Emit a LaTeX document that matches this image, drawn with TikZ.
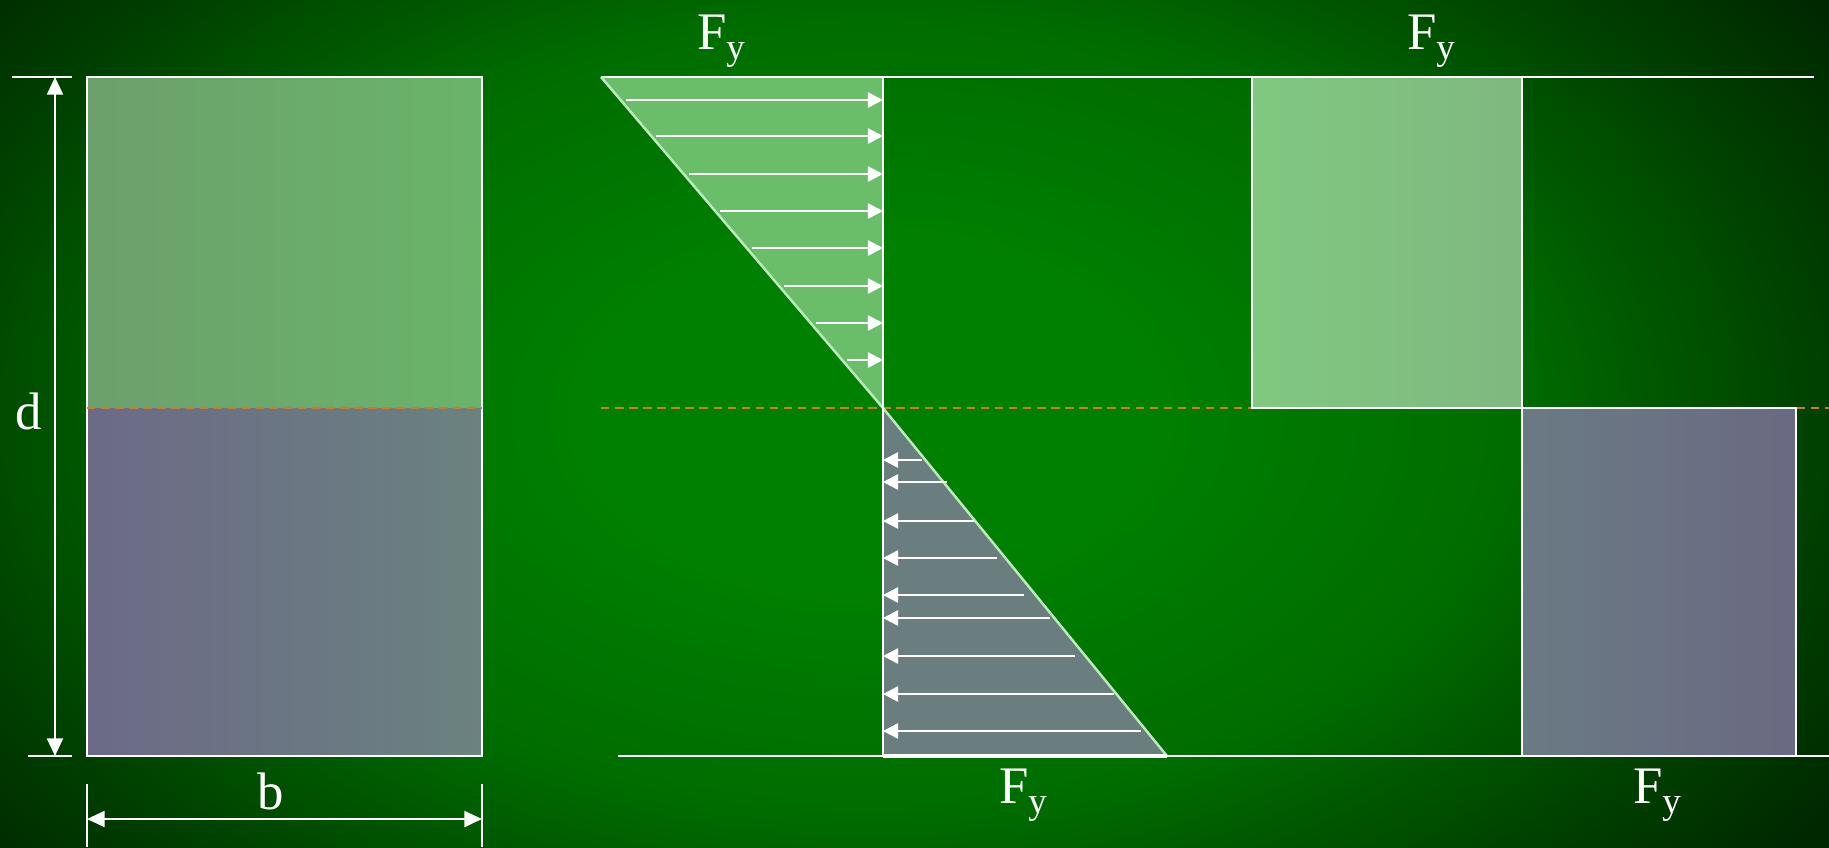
\documentclass[tikz,border=0pt]{standalone}
\usepackage{fontspec}
\setmainfont{Liberation Serif}
\usetikzlibrary{arrows.meta}

\definecolor{bgin}{RGB}{0,128,0}
\definecolor{bgmid}{RGB}{0,108,0}
\definecolor{bgdark}{RGB}{0,65,0}
\definecolor{bgout}{RGB}{0,40,0}
\definecolor{secupL}{RGB}{108,160,108}
\definecolor{secupR}{RGB}{106,180,106}
\definecolor{secdnL}{RGB}{108,106,135}
\definecolor{secdnR}{RGB}{106,130,128}
\definecolor{tensfill}{RGB}{106,190,106}
\definecolor{compfill}{RGB}{106,126,128}
\definecolor{yupL}{RGB}{128,200,128}
\definecolor{yupR}{RGB}{128,184,128}
\definecolor{ydnL}{RGB}{106,122,132}
\definecolor{ydnR}{RGB}{106,106,130}
\definecolor{axisorange}{RGB}{210,120,40}
\definecolor{diagline}{RGB}{190,235,190}

\pgfdeclareradialshading{bgglow}{\pgfpoint{0bp}{0bp}}{color(0bp)=(bgin); color(6bp)=(bgin); color(14bp)=(bgmid); color(20.5bp)=(bgdark); color(25bp)=(bgout); color(50bp)=(bgout)}

\newcommand{\fyield}{F\raisebox{-2.8pt}{\fontsize{10.5}{12}\selectfont y}}

\tikzset{
  edge/.style={white, line width=0.7pt},
  dimline/.style={white, line width=0.7pt, {Triangle[length=5pt,width=4.5pt]}-{Triangle[length=5pt,width=4.5pt]}},
  stressarrow/.style={white, line width=0.7pt, -{Triangle[length=4.3pt,width=4.3pt]}},
  neutral/.style={axisorange, line width=0.7pt, dash pattern=on 2.4pt off 1.6pt},
  fytext/.style={text=white, font=\fontsize{15}{18}\selectfont, inner sep=0pt},
}

\begin{document}
\begin{tikzpicture}[x=0.01cm,y=-0.01cm]
	\useasboundingbox (0,0) rectangle (1829,847);
	\fill[bgout] (-10,-10) rectangle (1839,857);
	\begin{scope}
		\clip (-10,-10) rectangle (1839,857);
		\shade[shading=bgglow] (870,415) ellipse [x radius=1150, y radius=720];
	\end{scope}

	% section b x d
	\shade[left color=secupL, right color=secupR] (87,77) rectangle (482,408);
	\shade[left color=secdnL, right color=secdnR] (87,408) rectangle (482,756);
	\draw[edge] (87,77) rectangle (482,756);
	\draw[neutral] (87,408) -- (482,408);

	\coordinate (dtop) at (55,77);
	\coordinate (dbot) at (55,756);
	\draw[edge] (12,77) -- (72,77);
	\draw[edge] (28,756) -- (72,756);
	\draw[dimline] (dtop) -- (dbot);
	\node[fytext] (dlab) at (29,411) {d};

	\coordinate (bleft) at (87,819);
	\coordinate (bright) at (482,819);
	\draw[edge] (87,784) -- (87,847);
	\draw[edge] (482,784) -- (482,847);
	\draw[dimline] (bleft) -- (bright);
	\node[fytext] (blab) at (271,791) {b};

	% stress distribution
	\coordinate (ttip) at (601,77);
	\coordinate (axtop) at (883,77);
	\coordinate (axmid) at (883,408);
	\coordinate (axbot) at (883,756);
	\coordinate (btip) at (1167,756);
	\fill[tensfill] (ttip) -- (axtop) -- (axmid) -- cycle;
	\fill[compfill] (axmid) -- (axbot) -- (btip) -- cycle;
	\draw[neutral] (601,408) -- (1829,408);
	\draw[diagline, line width=0.7pt] (ttip) -- (axmid) -- (btip);
	\draw[edge] (601,77) -- (1814,77);
	\draw[edge] (618,756) -- (1829,756);
	\draw[edge, line width=1.4pt] (axbot) -- (btip);
	\draw[edge] (axtop) -- (axbot);
	\foreach \y in {100,136,174,211,248,286,323,360}
		\draw[stressarrow] ({601+(\y-77)/331*282+5},\y) -- (883,\y);
	\foreach \y/\x in {460/922,482/947,521/974,558/997,595/1024,618/1050,656/1075,694/1114,731/1141}
		\draw[stressarrow] (\x,\y) -- (883,\y);

	% fully plastic
	\shade[left color=yupL, right color=yupR] (1252,77) rectangle (1522,408);
	\draw[edge] (1252,77) rectangle (1522,408);
	\shade[left color=ydnL, right color=ydnR] (1522,408) rectangle (1796,756);
	\draw[edge] (1522,408) rectangle (1796,756);

	\node[fytext] (fytl) at (721,41) {\fyield};
	\node[fytext] (fytr) at (1431,41) {\fyield};
	\node[fytext] (fybm) at (1023,795) {\fyield};
	\node[fytext] (fybr) at (1657,795) {\fyield};
\end{tikzpicture}
\end{document}
